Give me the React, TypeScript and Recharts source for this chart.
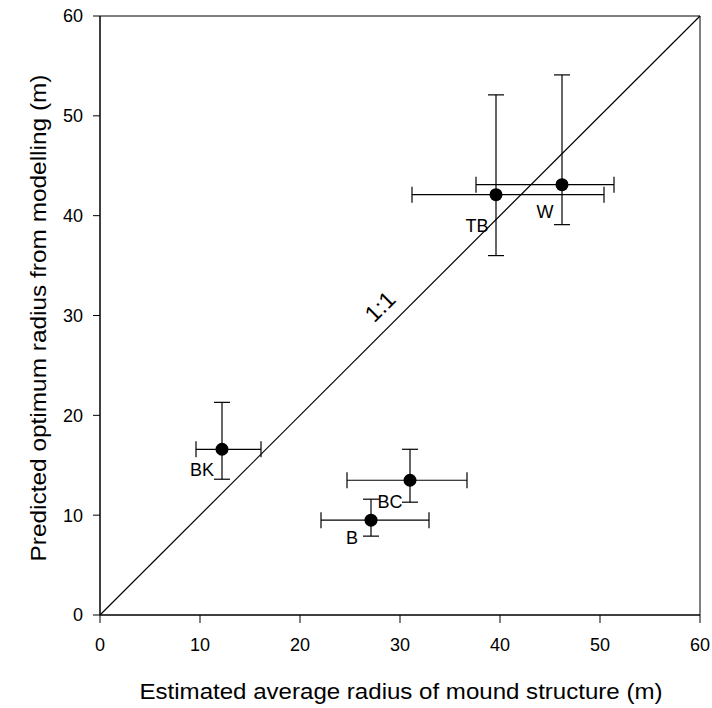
import React from 'react';
import {
  ScatterChart, Scatter, XAxis, YAxis, ErrorBar, ReferenceLine, ReferenceArea,
  ReferenceDot, LabelList,
} from 'recharts';

const siteNames = ['BK', 'B', 'BC', 'TB', 'W'];
const estRadius = [12.2, 27.1, 31.0, 39.6, 46.2];
const estLow = [9.6, 22.1, 24.7, 31.2, 37.6];
const estHigh = [16.1, 32.9, 36.7, 50.4, 51.4];
const predRadius = [16.6, 9.5, 13.5, 42.1, 43.1];
const predLow = [13.6, 7.9, 11.3, 36.0, 39.1];
const predHigh = [21.3, 11.6, 16.6, 52.1, 54.1];
const tickValues = [0, 10, 20, 30, 40, 50, 60];
const oneToOne = [0, 60];

const labelDx = [-20, -19, -20, -19, -17];
const labelDy = [21, 18, 22, 31, 27];

const data = siteNames.map((name, i) => ({
  name,
  x: estRadius[i],
  y: predRadius[i],
  ex: [estRadius[i] - estLow[i], estHigh[i] - estRadius[i]],
  ey: [predRadius[i] - predLow[i], predHigh[i] - predRadius[i]],
  idx: i,
}));

const FONT = '"Liberation Sans", Arial, sans-serif';

const PointLabel = (props: any) => {
  const { x, y, width, height, value, index } = props;
  const cx = x + (width || 0) / 2;
  const cy = y + (height || 0) / 2;
  return (
    <text
      x={cx + labelDx[index]}
      y={cy + labelDy[index]}
      textAnchor="middle"
      dominantBaseline="central"
      fontFamily={FONT}
      fontSize={18}
      fill="#000"
    >
      {value}
    </text>
  );
};

export default function App() {
  return (
    <div style={{ position: 'absolute', left: 0, top: 0, background: '#fff' }}>
      <ScatterChart
        width={712}
        height={708}
        margin={{ top: 16, right: 12, bottom: 0, left: 0 }}
      >
        <XAxis
          type="number"
          dataKey="x"
          domain={[0, 60]}
          ticks={tickValues}
          allowDataOverflow
          height={93}
          stroke="#000"
          tickSize={8}
          tickMargin={15}
          tick={{ fill: '#000', fontSize: 18, fontFamily: FONT }}
          label={(p: any) => {
            const vb = p.viewBox;
            return (
              <text
                x={vb.x + vb.width / 2 + 1}
                y={691}
                textAnchor="middle"
                dominantBaseline="central"
                fontFamily={FONT}
                fontSize={22}
                textLength={523}
                lengthAdjust="spacingAndGlyphs"
                fill="#000"
              >
                Estimated average radius of mound structure (m)
              </text>
            );
          }}
        />
        <YAxis
          type="number"
          dataKey="y"
          domain={[0, 60]}
          ticks={tickValues}
          allowDataOverflow
          width={100}
          stroke="#000"
          tickSize={7}
          tickMargin={10}
          tick={{ fill: '#000', fontSize: 18, fontFamily: FONT }}
          label={() => (
            <text
              x={38}
              y={318}
              transform="rotate(-90 38 318)"
              textAnchor="middle"
              dominantBaseline="central"
              fontFamily={FONT}
              fontSize={22}
              textLength={487}
              lengthAdjust="spacingAndGlyphs"
              fill="#000"
            >
              Predicted optimum radius from modelling (m)
            </text>
          )}
        />
        <ReferenceArea x1={0} x2={60} y1={0} y2={60} fill="none" stroke="#000" strokeWidth={1} />
        <ReferenceLine
          segment={[{ x: oneToOne[0], y: oneToOne[0] }, { x: oneToOne[1], y: oneToOne[1] }]}
          stroke="#000"
          strokeWidth={1.2}
        />
        <ReferenceDot
          x={28}
          y={30.9}
          r={0}
          fill="none"
          stroke="none"
          label={(p: any) => {
            const vb = p.viewBox;
            const cx = vb.x + (vb.width || 0) / 2;
            const cy = vb.y + (vb.height || 0) / 2;
            return (
              <text
                x={cx}
                y={cy}
                transform={`rotate(-45 ${cx} ${cy})`}
                textAnchor="middle"
                dominantBaseline="central"
                fontFamily={FONT}
                fontSize={23}
                fill="#000"
              >
                1:1
              </text>
            );
          }}
        />
        <Scatter data={data} fill="#000" isAnimationActive={false} shape={(p: any) => (
          <circle cx={p.cx} cy={p.cy} r={6.5} fill="#000" />
        )}>
          <ErrorBar dataKey="ex" direction="x" width={8} stroke="#000" strokeWidth={1.2} />
          <ErrorBar dataKey="ey" direction="y" width={8} stroke="#000" strokeWidth={1.2} />
          <LabelList dataKey="name" content={PointLabel} />
        </Scatter>
      </ScatterChart>
    </div>
  );
}
